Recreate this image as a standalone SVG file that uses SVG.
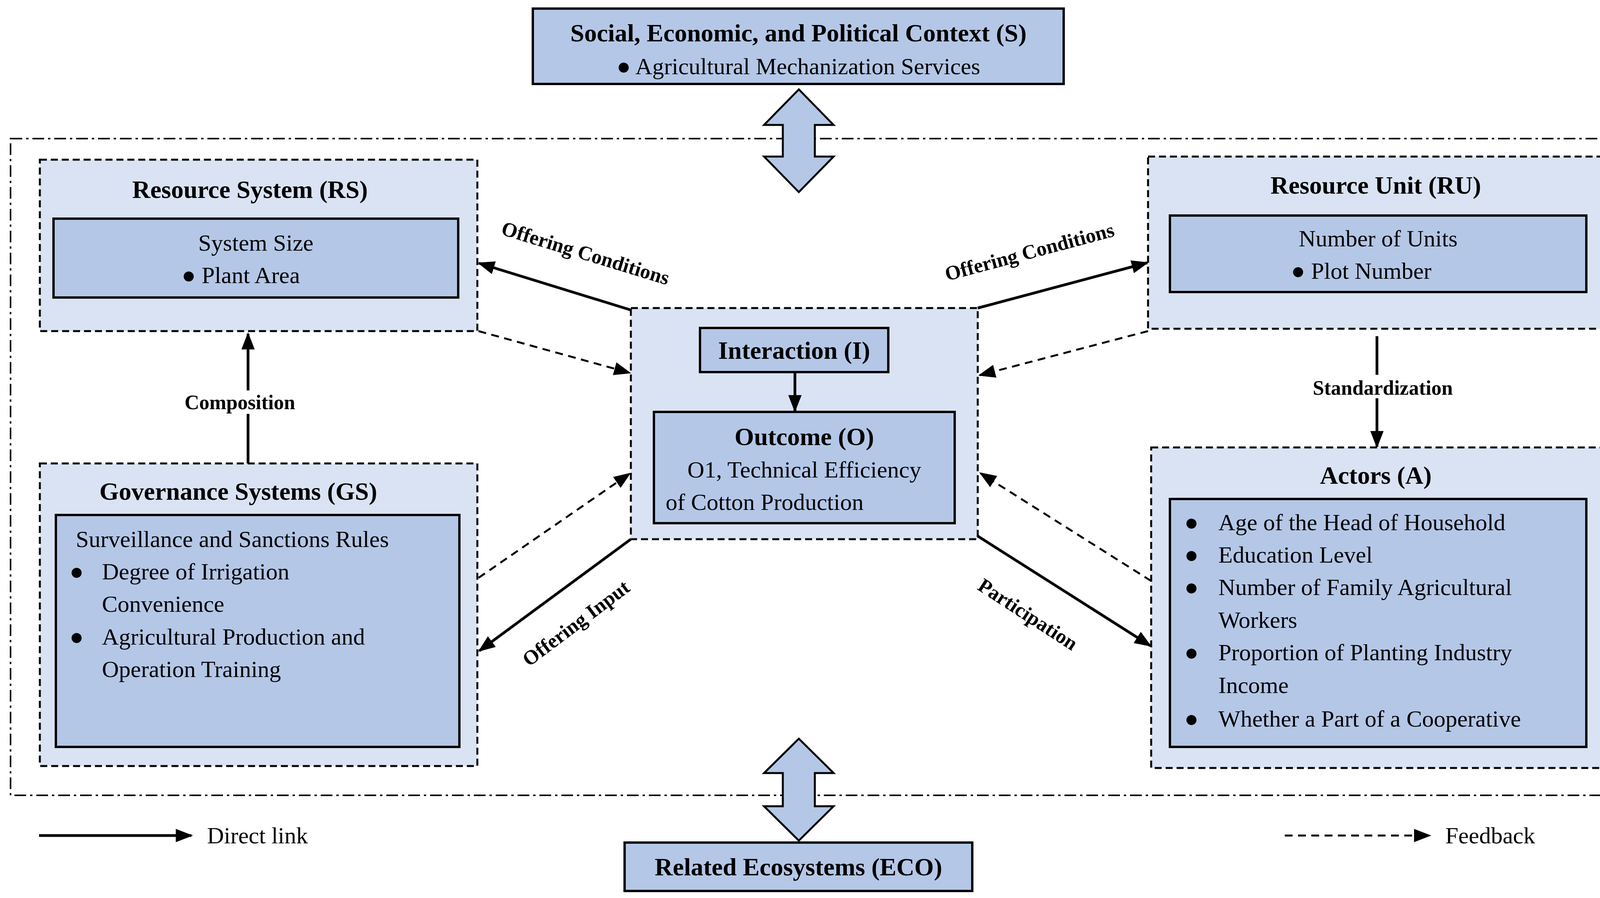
<svg xmlns="http://www.w3.org/2000/svg" width="4220" height="2300" viewBox="0 0 4220 2300">
<style>
text{font-family:"Liberation Serif","Times New Roman",serif;fill:#000}
.t{font-size:64px;font-weight:bold;text-anchor:middle}
.b{font-size:60px}
.c{text-anchor:middle}
.l{font-size:52px;font-weight:bold;text-anchor:middle}
.outer{fill:#dae3f3;stroke:#000;stroke-width:5;stroke-dasharray:18 10}
.inner{fill:#b4c7e7;stroke:#000;stroke-width:6}
.s{stroke:#000;stroke-width:7;fill:none;marker-end:url(#ah)}
.d{stroke:#000;stroke-width:5;fill:none;stroke-dasharray:20 14;marker-end:url(#ah)}
.dbl{fill:#b4c7e7;stroke:#000;stroke-width:5}
</style>
<defs>
<marker id="ah" markerUnits="userSpaceOnUse" markerWidth="44" markerHeight="34" refX="40" refY="17" orient="auto"><path d="M0,0 L44,17 L0,34 Z" fill="#000"/></marker>
</defs>
<rect width="4220" height="2300" fill="#fff"/>
<rect x="27" y="355" width="4163" height="1682" fill="none" stroke="#000" stroke-width="4" stroke-dasharray="30 10 6 10"/>
<g id="S"><rect x="1364" y="22" width="1359" height="193" class="inner"/>
<text class="t" x="2044" y="106">Social, Economic, and Political Context (S)</text>
<text class="b c" x="2044" y="190">●  Agricultural Mechanization Services</text></g>
<g id="arrowS"><path class="dbl" d="M2045,229 L2134,320 L2086,320 L2086,401 L2134,401 L2045,492 L1956,401 L2004,401 L2004,320 L1956,320 Z"/></g>
<g id="RS"><rect x="102" y="409" width="1120" height="439" class="outer"/>
<text class="t" x="640" y="507">Resource System (RS)</text>
<rect x="137" y="560" width="1036" height="202" class="inner"/>
<text class="b c" x="655" y="642">System Size</text>
<text class="b" x="465" y="725">●  Plant Area</text></g>
<g id="RU"><rect x="2939" y="401" width="1165" height="441" class="outer"/>
<text class="t" x="3522" y="496">Resource Unit (RU)</text>
<rect x="2995" y="552" width="1066" height="196" class="inner"/>
<text class="b c" x="3528" y="631">Number of Units</text>
<text class="b" x="3305" y="714">●  Plot Number</text></g>
<g id="I"><rect x="1615" y="789" width="888" height="592" class="outer"/>
<rect x="1792" y="840" width="482" height="113" class="inner"/>
<text class="t" x="2033" y="919">Interaction (I)</text></g>
<g id="O"><rect x="1674" y="1055" width="770" height="285" class="inner"/>
<text class="t" x="2059" y="1140">Outcome (O)</text>
<text class="b c" x="2059" y="1223">O1, Technical Efficiency</text>
<text class="b" x="1704" y="1306">of Cotton Production</text></g>
<g id="GS"><rect x="102" y="1187" width="1120" height="775" class="outer"/>
<text class="t" x="610" y="1280">Governance Systems (GS)</text>
<rect x="143" y="1319" width="1033" height="594" class="inner"/>
<text class="b" x="194" y="1401">Surveillance and Sanctions Rules</text>
<text class="b" x="178" y="1484">●</text><text class="b" x="261" y="1484">Degree of Irrigation</text>
<text class="b" x="261" y="1567">Convenience</text>
<text class="b" x="178" y="1651">●</text><text class="b" x="261" y="1651">Agricultural Production and</text>
<text class="b" x="261" y="1734">Operation Training</text></g>
<g id="A"><rect x="2947" y="1146" width="1157" height="821" class="outer"/>
<text class="t" x="3522" y="1239">Actors (A)</text>
<rect x="2995" y="1278" width="1066" height="635" class="inner"/>
<text class="b" x="3032" y="1358">●</text><text class="b" x="3119" y="1358">Age of the Head of Household</text>
<text class="b" x="3032" y="1441">●</text><text class="b" x="3119" y="1441">Education Level</text>
<text class="b" x="3032" y="1524">●</text><text class="b" x="3119" y="1524">Number of Family Agricultural</text>
<text class="b" x="3119" y="1608">Workers</text>
<text class="b" x="3032" y="1691">●</text><text class="b" x="3119" y="1691">Proportion of Planting Industry</text>
<text class="b" x="3119" y="1775">Income</text>
<text class="b" x="3032" y="1861">●</text><text class="b" x="3119" y="1861">Whether a Part of a Cooperative</text></g>
<g id="ECO"><rect x="1599" y="2158" width="890" height="124" class="inner"/>
<text class="t" x="2044" y="2242">Related Ecosystems (ECO)</text></g>
<g id="arrowECO"><path class="dbl" d="M2045,1892 L2134,1980 L2086,1980 L2086,2065 L2134,2065 L2045,2153 L1956,2065 L2004,2065 L2004,1980 L1956,1980 Z"/></g>
<g id="connectors">
<line class="s" x1="2035" y1="953" x2="2035" y2="1052"/>
<line class="s" x1="1615" y1="794" x2="1226" y2="674"/>
<line class="d" x1="1225" y1="848" x2="1612" y2="955"/>
<line class="s" x1="2503" y1="789" x2="2937" y2="673"/>
<line class="d" x1="2939" y1="848" x2="2508" y2="961"/>
<line class="s" x1="3525" y1="861" x2="3525" y2="1144"/>
<line class="s" x1="635" y1="1187" x2="635" y2="855"/>
<line class="d" x1="1225" y1="1480" x2="1612" y2="1213"/>
<line class="s" x1="1615" y1="1381" x2="1227" y2="1667"/>
<line class="s" x1="2503" y1="1373" x2="2945" y2="1654"/>
<line class="d" x1="2947" y1="1488" x2="2510" y2="1212"/>
<rect x="3320" y="955" width="410" height="60" fill="#dae3f3" opacity="0"/>
<rect x="3330" y="960" width="390" height="60" fill="#fff"/>
<text class="l" x="3540" y="1011">Standardization</text>
<rect x="440" y="1000" width="360" height="60" fill="#fff"/>
<text class="l" x="614" y="1048">Composition</text>
<text class="l" transform="translate(1494,665) rotate(17)">Offering Conditions</text>
<text class="l" transform="translate(2640,662) rotate(-15)">Offering Conditions</text>
<text class="l" transform="translate(1485,1610) rotate(-37)">Offering Input</text>
<text class="l" transform="translate(2622,1588) rotate(33)">Participation</text>
</g>
<g id="legend">
<line class="s" x1="100" y1="2140" x2="490" y2="2140"/>
<text class="b" x="530" y="2160">Direct link</text>
<line class="d" x1="3289" y1="2140" x2="3660" y2="2140"/>
<text class="b" x="3700" y="2160">Feedback</text>
</g>
</svg>
